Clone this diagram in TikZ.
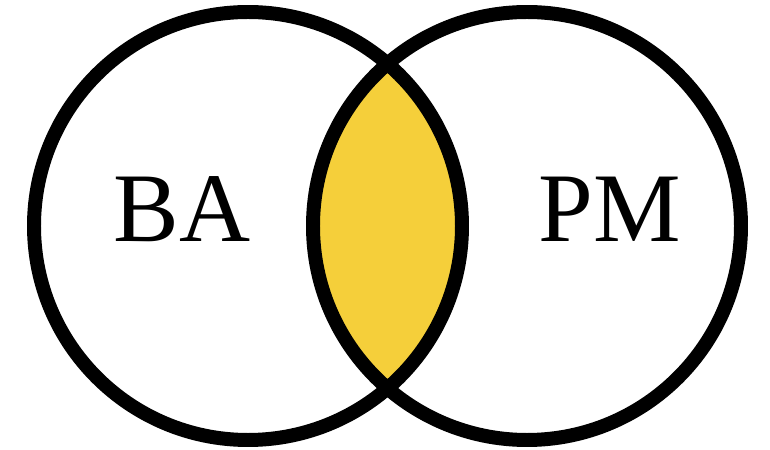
\documentclass[tikz,border=0pt]{standalone}
\usepackage{fontspec}
\setmainfont{Liberation Serif}
\usepackage{xcolor}
\usetikzlibrary{positioning}
\definecolor{lensYellow}{RGB}{245,207,58}

\begin{document}
\begin{tikzpicture}[
  setring/.style={draw=black,line width=3.98pt},
  setlabel/.style={anchor=base,inner sep=0pt,font=\fontsize{28}{31}\selectfont}]
\useasboundingbox (0,0) rectangle (7.7,4.5);
\coordinate (cBA) at (2.48,2.24);
\coordinate (cPM) at (5.27,2.24);
% shared part
\begin{scope}
  \clip (cBA) circle (2.14);
  \fill[lensYellow] (cPM) circle (2.14);
\end{scope}
\draw[setring] (cBA) circle (2.14);
\draw[setring] (cPM) circle (2.14);
\node[setlabel] (ba) at (1.82,2.08) {BA};
\node[setlabel] (pm) at (6.095,2.08) {PM};
\end{tikzpicture}
\end{document}
